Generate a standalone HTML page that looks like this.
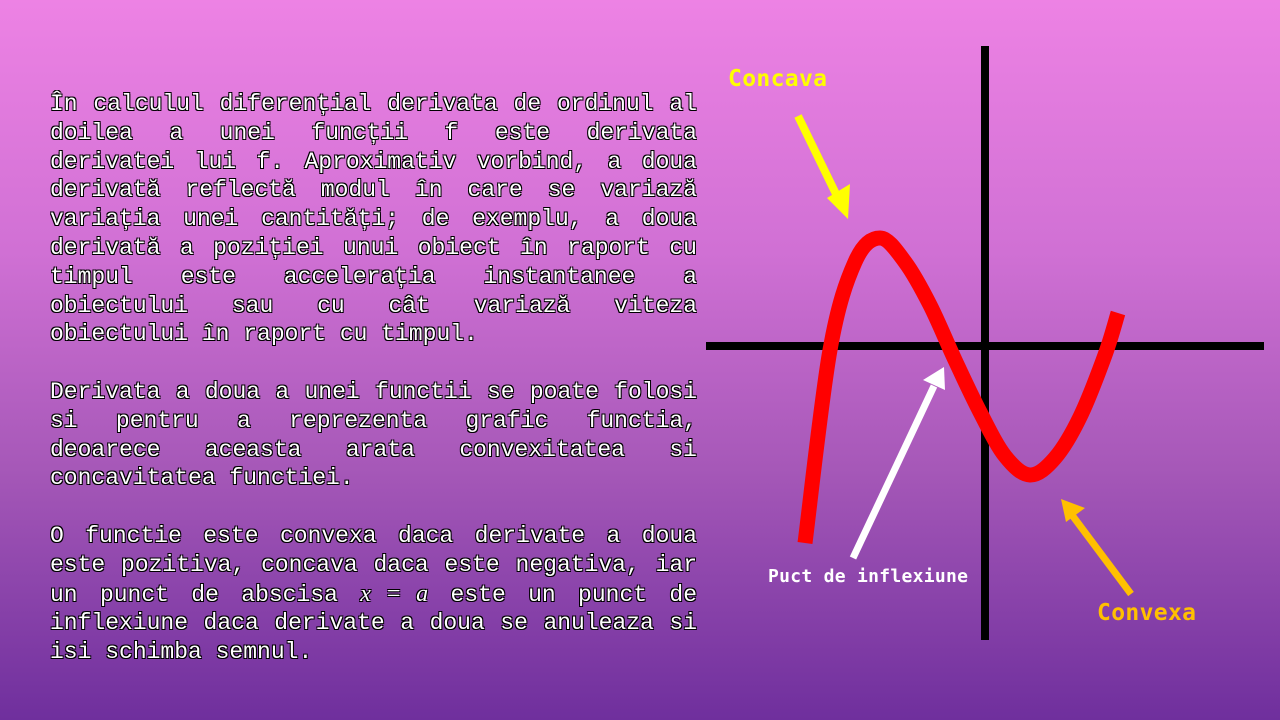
<!DOCTYPE html>
<html><head><meta charset="utf-8"><style>
html,body{margin:0;padding:0}
body{width:1280px;height:720px;overflow:hidden;position:relative;background:linear-gradient(#ed82e4 0%,#d070d4 35%,#a658b8 65%,#6f2f9d 100%);font-family:"Liberation Mono",monospace}
#txt{position:absolute;left:50px;top:90px;width:647px;font-size:23px;line-height:28.8px;color:#fff;text-shadow:-1px -1px 0 #000,1px -1px 0 #000,-1px 1px 0 #000,1px 1px 0 #000}
#txt span{display:block;text-align:justify;text-align-last:justify;white-space:nowrap;overflow:hidden}
#txt span.l{text-align-last:left}
#txt span.b{height:28.8px}
i.m{font-family:"Liberation Serif",serif;font-size:24px}
svg{position:absolute;left:0;top:0}
</style></head><body>
<div id="txt">
<span>În calculul diferențial derivata de ordinul al</span>
<span>doilea a unei funcții f este derivata</span>
<span>derivatei lui f. Aproximativ vorbind, a doua</span>
<span>derivată reflectă modul în care se variază</span>
<span>variația unei cantități; de exemplu, a doua</span>
<span>derivată a poziției unui obiect în raport cu</span>
<span>timpul este accelerația instantanee a</span>
<span>obiectului sau cu cât variază viteza</span>
<span class="l">obiectului în raport cu timpul.</span>
<span class="b"></span>
<span>Derivata a doua a unei functii se poate folosi</span>
<span>si pentru a reprezenta grafic functia,</span>
<span>deoarece aceasta arata convexitatea si</span>
<span class="l">concavitatea functiei.</span>
<span class="b"></span>
<span>O functie este convexa daca derivate a doua</span>
<span>este pozitiva, concava daca este negativa, iar</span>
<span>un punct de abscisa <i class="m">x = a</i> este un punct de</span>
<span>inflexiune daca derivate a doua se anuleaza si</span>
<span class="l">isi schimba semnul.</span>
</div>
<svg id="chart" width="1280" height="720">
<line x1="706" y1="346" x2="1264" y2="346" stroke="#000" stroke-width="8"/>
<line x1="985" y1="46" x2="985" y2="640" stroke="#000" stroke-width="8"/>
<path id="curve" fill="none" stroke="#f00" stroke-width="15"/>
<g>
<line x1="798" y1="116" x2="836" y2="194" stroke="#ff0" stroke-width="8"/>
<polygon points="827,198 850,184 848,219" fill="#ff0"/>
</g>
<g>
<line x1="853" y1="558" x2="934" y2="386" stroke="#fff" stroke-width="7"/>
<polygon points="923,380 945,390 944,367" fill="#fff"/>
</g>
<g>
<line x1="1131" y1="594" x2="1072" y2="515" stroke="#ffc000" stroke-width="7"/>
<polygon points="1061,499 1066,522 1085,508" fill="#ffc000"/>
</g>
<text x="728" y="86" fill="#ffff00" font-family="DejaVu Sans Mono, monospace" font-weight="bold" font-size="23" textLength="99">Concava</text>
<text x="768" y="582" fill="#fff" font-family="DejaVu Sans Mono, monospace" font-weight="bold" font-size="18" textLength="200">Puct de inflexiune</text>
<text x="1097" y="620" fill="#ffc000" font-family="DejaVu Sans Mono, monospace" font-weight="bold" font-size="23" textLength="99">Convexa</text>
</svg>
<script>
const xs=[-3.6,-3.1,-2.6,-2.1,-1.6,-1.1,-0.6,-0.1,0.4,0.9,1.4,1.9,2.4,2.66];
const ys=[-3.94,-0.08,1.68,2.16,1.68,0.82,-0.28,-1.32,-2.2,-2.58,-2.24,-1.42,-0.18,0.66];
const ox=985,oy=346,s=50;
function sx(v){return ox+v*s}
function sy(v){return oy-v*s}
const P=xs.map((x,i)=>[sx(x),sy(ys[i])]);
let d='M'+P[0][0]+','+P[0][1];
for(let i=0;i<P.length-1;i++){
 const p0=P[Math.max(i-1,0)],p1=P[i],p2=P[i+1],p3=P[Math.min(i+2,P.length-1)];
 const c1=[p1[0]+(p2[0]-p0[0])/6,p1[1]+(p2[1]-p0[1])/6];
 const c2=[p2[0]-(p3[0]-p1[0])/6,p2[1]-(p3[1]-p1[1])/6];
 d+=' C'+c1[0]+','+c1[1]+' '+c2[0]+','+c2[1]+' '+p2[0]+','+p2[1];
}
document.getElementById('curve').setAttribute('d',d);
</script>
</body></html>
